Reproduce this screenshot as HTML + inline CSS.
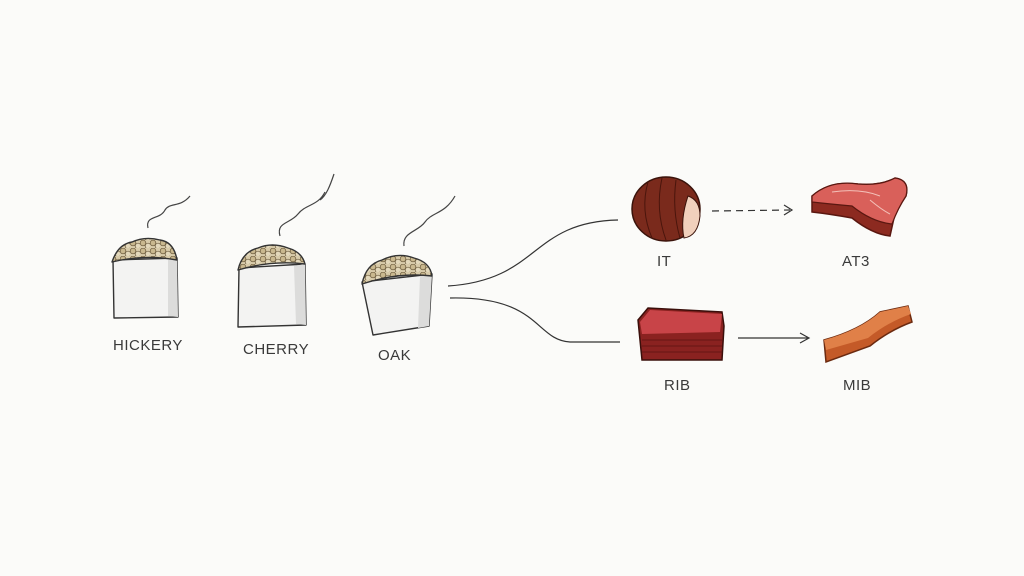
<!DOCTYPE html>
<html><head><meta charset="utf-8"><style>
html,body{margin:0;padding:0;background:#fbfbf9;}
svg{display:block}
text{font-family:"Liberation Sans",sans-serif;font-size:15px;fill:#3a3a3a;letter-spacing:0.5px}
</style></head><body>
<svg width="1024" height="576" viewBox="0 0 1024 576">
<rect width="1024" height="576" fill="#fbfbf9"/>
<defs>
<pattern id="chips" width="10" height="8" patternUnits="userSpaceOnUse">
<rect width="10" height="8" fill="#d8cbaa"/>
<circle cx="3" cy="3" r="2.8" fill="#c9b88f" stroke="#6b5a3c" stroke-width="0.7"/>
<circle cx="8" cy="6" r="2.8" fill="#e3d8bb" stroke="#6b5a3c" stroke-width="0.7"/>
</pattern>
</defs>
<g fill="none" stroke="#444" stroke-width="1.2">
<path d="M148 228 C145 215 160 220 165 210 C170 202 180 208 190 196"/>
<path d="M280 236 C276 222 290 224 298 214 C306 204 318 206 325 192 M320 200 C326 196 330 186 334 174"/>
<path d="M404 246 C402 232 418 232 425 222 C432 212 445 214 455 196"/>
</g>
<!-- bags -->
<g stroke="#333" stroke-width="1.4" stroke-linejoin="round">
<path d="M113 260 L177 258 L178 317 L114 318 Z" fill="#f3f3f2"/>
<path d="M168 260 L177 258 L178 317 L168 316Z" fill="#dcdcdb" stroke="none"/>
<path d="M112 262 Q118 244 132 242 Q145 236 160 240 Q174 242 177 260 Q145 254 112 262Z" fill="url(#chips)"/>
<path d="M239 268 L305 264 L306 325 L238 327 Z" fill="#f3f3f2"/>
<path d="M294 266 L305 264 L306 325 L296 324Z" fill="#dcdcdb" stroke="none"/>
<path d="M238 270 Q242 252 258 248 Q272 242 288 248 Q302 252 305 264 Q272 260 238 270Z" fill="url(#chips)"/>
<path d="M362 282 L432 274 L429 326 L373 335 Z" fill="#f3f3f2"/>
<path d="M420 276 L432 274 L429 326 L418 328Z" fill="#dcdcdb" stroke="none"/>
<path d="M362 284 Q366 264 382 260 Q398 252 414 258 Q430 262 432 276 Q398 272 362 284Z" fill="url(#chips)"/>
</g>
<text x="113" y="350">HICKERY</text>
<text x="243" y="354">CHERRY</text>
<text x="378" y="360">OAK</text>
<!-- connectors -->
<g fill="none" stroke="#333" stroke-width="1.2">
<path d="M448 286 C540 280 530 222 618 220"/>
<path d="M450 298 C540 296 535 340 570 342 L620 342"/>
<path d="M712 211 L790 210" stroke-dasharray="7 5"/>
<path d="M784 205 L792 210 L784 215"/>
<path d="M738 338 L808 338 M800 333 L809 338 L800 343"/>
</g>
<!-- IT ball -->
<ellipse cx="666" cy="209" rx="34" ry="32" fill="#7a2a1c" stroke="#3a130b" stroke-width="1.5"/>
<g stroke="#4a150c" stroke-width="1" fill="none"><path d="M648 182 Q640 210 652 238"/><path d="M662 178 Q655 210 666 240"/><path d="M676 180 Q672 210 680 238"/></g>
<path d="M688 196 Q700 200 700 216 Q698 236 684 238 Q680 220 688 196 Z" fill="#f1d0bc" stroke="#3a130b" stroke-width="1"/>
<text x="657" y="266">IT</text>
<!-- AT3 steak -->
<path d="M812 196 Q830 180 858 184 Q880 186 895 178 Q910 180 906 196 Q898 208 894 218 L890 236 Q872 234 852 218 Q830 214 812 212 Z" fill="#8c2a20" stroke="#5a1710" stroke-width="1.5"/>
<path d="M812 196 Q830 180 858 184 Q880 186 895 178 Q910 180 906 196 Q898 208 892 224 Q872 222 852 206 Q830 204 812 202 Z" fill="#d9605a" stroke="#5a1710" stroke-width="1.2"/>
<path d="M832 192 Q860 188 880 196 M870 200 Q882 210 890 214" stroke="#f3c0b8" fill="none" stroke-width="1"/>
<text x="842" y="266">AT3</text>
<!-- RIB block -->
<path d="M638 320 L648 308 L722 312 L724 326 L722 360 L642 360 Z" fill="#8a2220" stroke="#3a0f0b" stroke-width="1.5"/>
<g stroke="#5a1410" stroke-width="0.8"><path d="M642 340 L722 340 M642 346 L722 346 M642 352 L722 352"/></g>
<path d="M640 322 L650 310 L722 314 L720 332 L642 334 Z" fill="#c84448"/>
<text x="664" y="390">RIB</text>
<!-- MIB bar -->
<path d="M824 340 Q860 330 880 312 L908 306 L912 322 Q890 330 870 346 L826 362 Z" fill="#c45a28" stroke="#6b2a10" stroke-width="1.5"/>
<path d="M824 340 Q860 330 880 312 L908 306 L911 314 Q888 322 868 338 L826 350 Z" fill="#e08048"/>
<text x="843" y="390">MIB</text>
</svg>
</body></html>
